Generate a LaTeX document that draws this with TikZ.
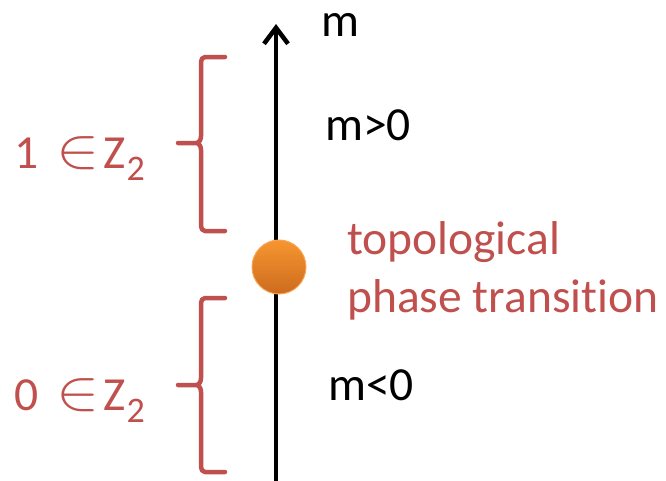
\documentclass[tikz,border=0pt]{standalone}
\usepackage{fontspec}
\setmainfont{Carlito}[Ligatures={NoCommon,NoRequired,NoContextual}]
\usepackage{graphicx}
\usetikzlibrary{arrows.meta}
\definecolor{tred}{HTML}{C0504D}
\definecolor{otop}{HTML}{F7962F}
\definecolor{obot}{HTML}{CC6B1E}
\definecolor{oedge}{HTML}{F9A555}
\newcommand{\elem}{\raisebox{0.02em}{\scalebox{2.6}[2.3]{$\in$}}}
\newcommand{\subtwo}{\raisebox{-12pt}{\fontsize{36}{40}\selectfont 2}}
\tikzset{
  lbl/.style={font=\fontsize{47.5}{52}\selectfont, inner sep=0pt, anchor=base west},
  redlbl/.style={lbl, text=tred},
  brace/.style={draw=tred, line width=4.5pt, line join=round, line cap=round},
}
\begin{document}
\begin{tikzpicture}[x=1pt,y=-1pt]
\useasboundingbox (0,0) rectangle (666,480);
% axis
\coordinate (bot) at (276,482);
\coordinate (top) at (276,24);
\draw[line width=4.5pt, -{Straight Barb[length=16pt,width=24pt,line width=4.5pt]}] (bot) -- (top);
% transition dot
\node[circle, minimum size=54pt, inner sep=0pt, draw=oedge, line width=1pt,
      top color=otop, bottom color=obot] (dot) at (279,267) {};
% braces
\draw[brace] (225,57) -- (205,57) to[out=180,in=90] (201,62) -- (201,136) to[out=-90,in=0] (196,143) -- (178,143)
             (196,143) to[out=0,in=90] (201,150) -- (201,226) to[out=-90,in=180] (205,231) -- (225,231);
\draw[brace] (225,298) -- (205,298) to[out=180,in=90] (201,303) -- (201,378) to[out=-90,in=0] (196,385) -- (178,385)
             (196,385) to[out=0,in=90] (201,392) -- (201,467) to[out=-90,in=180] (205,472) -- (225,472);
% labels
\node[lbl] (m) at (321,36) {m};
\node[lbl] (mpos) at (325,140) {m>0};
\node[lbl] (mneg) at (328,400) {m<0};
\node[redlbl] (topo) at (347,254) {topological};
\node[redlbl] (phase) at (347,312) {phase transition};
\node[redlbl] (one) at (14,168) {1\hspace{18pt}\elem\hspace{4pt}Z\hspace{1pt}\subtwo};
\node[redlbl] (zero) at (14,410) {0\hspace{18pt}\elem\hspace{4pt}Z\hspace{1pt}\subtwo};
\end{tikzpicture}
\end{document}
